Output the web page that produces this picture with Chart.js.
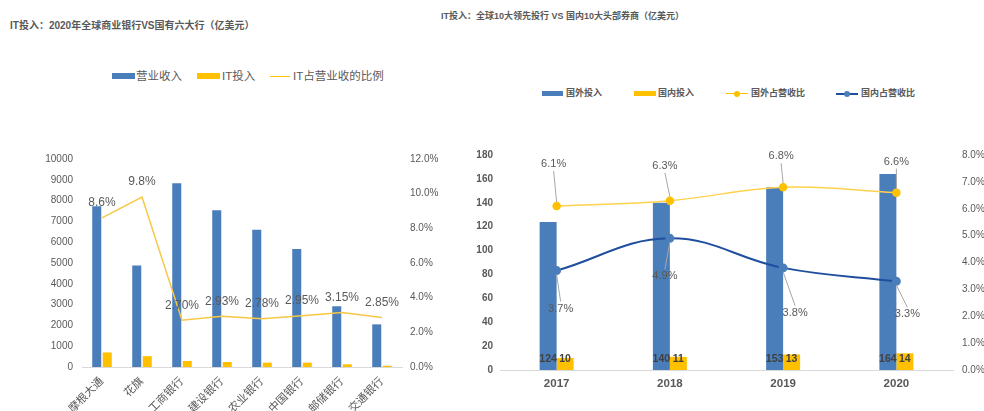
<!DOCTYPE html>
<html>
<head>
<meta charset="utf-8">
<script src="https://cdn.jsdelivr.net/npm/chart.js@4.4.1/dist/chart.umd.min.js"></script>
<style>
  body { margin: 0; background: #fff; font-family: "Liberation Sans", "Noto Sans CJK SC", sans-serif; color: #595959; }
  #wrap { position: relative; width: 984px; height: 411px; overflow: hidden; }
  .abs { position: absolute; white-space: nowrap; }
  .title { font-weight: bold; }
  .sw { position: absolute; }
  canvas { position: absolute; }
</style>
</head>
<body>
<div id="wrap">
  <!-- left chart: title + legend -->
  <div class="abs title" style="left:10px;top:19px;font-size:10px;line-height:14px;">IT投入：2020年全球商业银行VS国有六大行（亿美元）</div>
  <div class="sw" style="left:112px;top:73px;width:23px;height:6px;background:#4a7ebb;"></div>
  <div class="abs" style="left:136px;top:69px;font-size:11.5px;line-height:14px;">营业收入</div>
  <div class="sw" style="left:197px;top:73px;width:23px;height:6px;background:#ffc000;"></div>
  <div class="abs" style="left:222px;top:69px;font-size:11.5px;line-height:14px;">IT投入</div>
  <div class="sw" style="left:270px;top:75.5px;width:20px;height:1.5px;background:#ffc000;"></div>
  <div class="abs" style="left:293px;top:69px;font-size:11.5px;line-height:14px;">IT占营业收的比例</div>

  <!-- right chart: title + legend -->
  <div class="abs title" style="left:441px;top:10px;font-size:9px;line-height:13px;">IT投入：全球10大领先投行 VS 国内10大头部券商（亿美元）</div>
  <div class="sw" style="left:542px;top:91px;width:21px;height:5px;background:#4a7ebb;"></div>
  <div class="abs title" style="left:566px;top:87px;font-size:9px;line-height:13px;">国外投入</div>
  <div class="sw" style="left:634px;top:91px;width:22px;height:5px;background:#ffc000;"></div>
  <div class="abs title" style="left:658px;top:87px;font-size:9px;line-height:13px;">国内投入</div>
  <div class="sw" style="left:726px;top:93px;width:22px;height:1px;background:#ffc000;"></div>
  <div class="sw" style="left:734px;top:90.5px;width:6px;height:6px;border-radius:3px;background:#ffc000;"></div>
  <div class="abs title" style="left:751px;top:87px;font-size:9px;line-height:13px;">国外占营收比</div>
  <div class="sw" style="left:836px;top:92.5px;width:22px;height:2px;background:#1f4e9f;"></div>
  <div class="sw" style="left:844px;top:90.5px;width:6px;height:6px;border-radius:3px;background:#4a7ebb;"></div>
  <div class="abs title" style="left:861px;top:87px;font-size:9px;line-height:13px;">国内占营收比</div>

  <canvas id="bankChart" width="460" height="271" style="left:0;top:140px;"></canvas>
  <canvas id="brokerChart" width="524" height="271" style="left:460px;top:140px;"></canvas>
</div>

<script>
'use strict';

// ── Left chart data: 2020 global banks vs big six ────────────────
const banks = ['摩根大通', '花旗', '工商银行', '建设银行', '农业银行', '中国银行', '邮储银行', '交通银行'];
const revenue = [7730, 4880, 8830, 7540, 6600, 5670, 2920, 2050];
const itSpend = [700, 520, 290, 240, 210, 210, 130, 60];
const itRatio = [8.6, 9.8, 2.70, 2.93, 2.78, 2.95, 3.15, 2.85];
const itRatioDecimals = [1, 1, 2, 2, 2, 2, 2, 2];

// ── Right chart data: top-10 IBs vs top-10 domestic brokers ──────
const years = ['2017', '2018', '2019', '2020'];
const foreignSpend = [124, 140, 153, 164];
const domesticSpend = [10, 11, 13, 14];
const foreignRatio = [6.1, 6.3, 6.8, 6.6];
const domesticRatio = [3.7, 4.9, 3.8, 3.3];

const BLUE = '#4a7ebb';
const YELLOW = '#ffc000';
const GREY = '#595959';

Chart.defaults.font.family = '"Liberation Sans", "Noto Sans CJK SC", sans-serif';
Chart.defaults.color = GREY;
Chart.defaults.animation = false;

// ── Data label plugin (no datalabels plugin offline) ─────────────
const valueLabels = {
    id: 'valueLabels',
    afterDatasetsDraw(chart) {
        const ctx = chart.ctx;
        chart.data.datasets.forEach((ds, i) => {
            const cfg = ds.valueLabel;
            const meta = chart.getDatasetMeta(i);
            if (!cfg || meta.hidden) return;
            ctx.save();
            ctx.font = cfg.font;
            ctx.textAlign = 'center';
            ctx.textBaseline = 'middle';
            meta.data.forEach((el, j) => {
                const text = cfg.format(ds.data[j], j);
                let x = el.x, y;
                if (cfg.at === 'base') {
                    y = el.base - cfg.dy;
                } else {
                    const off = cfg.offsets ? cfg.offsets[j] : [0, -cfg.dy];
                    x += off[0];
                    y = el.y + off[1];
                }
                if (cfg.leader) {
                    const s = Math.sign(y - el.y);
                    ctx.strokeStyle = cfg.leader;
                    ctx.lineWidth = 1;
                    ctx.beginPath();
                    ctx.moveTo(el.x, el.y + s * 4);
                    ctx.lineTo(x, y - s * 7);
                    ctx.stroke();
                }
                ctx.fillStyle = cfg.color;
                ctx.fillText(text, x, y);
            });
            ctx.restore();
        });
    }
};

const fixWidth = w => scale => { scale.width = w; };
const fixHeight = h => scale => { scale.height = h; };

// ── Left chart ───────────────────────────────────────────────────
new Chart(document.getElementById('bankChart'), {
    type: 'bar',
    plugins: [valueLabels],
    data: {
        labels: banks,
        datasets: [
            {
                type: 'line', label: 'IT占营业收的比例', data: itRatio, yAxisID: 'y1', order: 0,
                borderColor: '#f7c746', borderWidth: 1.5, pointRadius: 0, tension: 0,
                valueLabel: { font: '12px "Liberation Sans"', color: GREY, dy: 15,
                    format: (v, j) => v.toFixed(itRatioDecimals[j]) + '%' }
            },
            {
                label: '营业收入', data: revenue, backgroundColor: BLUE, order: 1,
                categoryPercentage: 0.525, barPercentage: 0.86
            },
            {
                label: 'IT投入', data: itSpend, backgroundColor: YELLOW, order: 1,
                categoryPercentage: 0.525, barPercentage: 0.86
            }
        ]
    },
    options: {
        responsive: false,
        layout: { padding: { top: 19, left: 0, right: 0, bottom: 0 } },
        plugins: { legend: { display: false }, tooltip: { enabled: false } },
        scales: {
            x: {
                grid: { display: false, drawTicks: false },
                border: { display: true, color: '#d9d9d9' },
                ticks: { autoSkip: false, minRotation: 45, maxRotation: 45, padding: 8, font: { size: 11 } },
                afterFit: fixHeight(44)
            },
            y: {
                min: 0, max: 10000,
                grid: { display: false, drawTicks: false },
                border: { display: false },
                ticks: { stepSize: 1000, padding: 9, font: { size: 10 }, callback: v => String(v) },
                afterFit: fixWidth(82)
            },
            y1: {
                position: 'right', min: 0, max: 12,
                grid: { display: false, drawTicks: false },
                border: { display: false },
                ticks: { stepSize: 2, padding: 8, font: { size: 10 }, callback: v => v.toFixed(1) + '%' },
                afterFit: fixWidth(58)
            }
        }
    }
});

// ── Right chart ──────────────────────────────────────────────────
new Chart(document.getElementById('brokerChart'), {
    type: 'bar',
    plugins: [valueLabels],
    data: {
        labels: years,
        datasets: [
            {
                type: 'line', label: '国外占营收比', data: foreignRatio, yAxisID: 'y1', order: 0,
                borderColor: '#ffd24d', borderWidth: 1.5, tension: 0.4,
                pointRadius: 3.5, pointBackgroundColor: YELLOW, pointBorderColor: YELLOW,
                valueLabel: { font: '11px "Liberation Sans"', color: GREY, leader: '#a6a6a6',
                    offsets: [[-3, -42], [-5, -35], [-2, -31], [0, -31]],
                    format: v => v.toFixed(1) + '%' }
            },
            {
                type: 'line', label: '国内占营收比', data: domesticRatio, yAxisID: 'y1', order: 0,
                borderColor: '#1f4e9f', borderWidth: 2, tension: 0.4,
                pointRadius: 3.5, pointBackgroundColor: BLUE, pointBorderColor: BLUE,
                valueLabel: { font: '11px "Liberation Sans"', color: GREY, leader: '#a6a6a6',
                    offsets: [[4, 38], [-5, 38], [12, 45], [11, 33]],
                    format: v => v.toFixed(1) + '%' }
            },
            {
                label: '国外投入', data: foreignSpend, backgroundColor: BLUE, order: 1,
                categoryPercentage: 0.3, barPercentage: 1,
                valueLabel: { at: 'base', dy: 10.5, font: 'bold 10.5px "Liberation Sans"', color: '#404040',
                    format: v => String(v) }
            },
            {
                label: '国内投入', data: domesticSpend, backgroundColor: YELLOW, order: 1,
                categoryPercentage: 0.3, barPercentage: 1,
                valueLabel: { at: 'base', dy: 10.5, font: 'bold 10.5px "Liberation Sans"', color: '#404040',
                    format: v => String(v) }
            }
        ]
    },
    options: {
        responsive: false,
        layout: { padding: { top: 15, left: 0, right: 0, bottom: 0 } },
        plugins: { legend: { display: false }, tooltip: { enabled: false } },
        scales: {
            x: {
                grid: { display: false, drawTicks: false },
                border: { display: true, color: '#d9d9d9' },
                ticks: { padding: 7, font: { size: 11.5, weight: 'bold' } },
                afterFit: fixHeight(41)
            },
            y: {
                min: 0, max: 180,
                grid: { display: false, drawTicks: false },
                border: { display: false },
                ticks: { stepSize: 20, padding: 7, font: { size: 10, weight: 'bold' } },
                afterFit: fixWidth(40)
            },
            y1: {
                position: 'right', min: 0, max: 8,
                grid: { display: false, drawTicks: false },
                border: { display: false },
                ticks: { stepSize: 1, padding: 9, font: { size: 10 }, callback: v => v.toFixed(1) + '%' },
                afterFit: fixWidth(31)
            }
        }
    }
});
</script>
</body>
</html>
